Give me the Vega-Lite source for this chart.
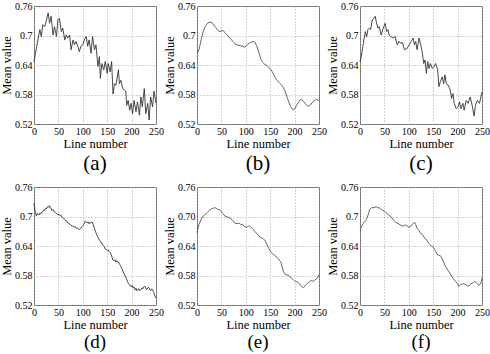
{
  "$schema": "https://vega.github.io/schema/vega-lite/v6.json",
  "padding": {"left": 0, "top": 0, "right": 0, "bottom": 0},
  "background": "white",
  "datasets": {
    "a": [{"x":0,"y":0.647},{"x":3,"y":0.664},{"x":8,"y":0.691},{"x":12,"y":0.712},{"x":15,"y":0.698},{"x":18,"y":0.722},{"x":22,"y":0.718},{"x":25,"y":0.729},{"x":29,"y":0.746},{"x":32,"y":0.725},{"x":35,"y":0.739},{"x":39,"y":0.701},{"x":42,"y":0.718},{"x":46,"y":0.698},{"x":49,"y":0.732},{"x":52,"y":0.735},{"x":56,"y":0.708},{"x":59,"y":0.715},{"x":63,"y":0.691},{"x":66,"y":0.701},{"x":69,"y":0.695},{"x":73,"y":0.701},{"x":76,"y":0.671},{"x":80,"y":0.691},{"x":83,"y":0.681},{"x":86,"y":0.688},{"x":90,"y":0.678},{"x":93,"y":0.667},{"x":96,"y":0.678},{"x":100,"y":0.681},{"x":103,"y":0.691},{"x":107,"y":0.698},{"x":110,"y":0.678},{"x":113,"y":0.691},{"x":117,"y":0.664},{"x":120,"y":0.698},{"x":124,"y":0.671},{"x":127,"y":0.681},{"x":131,"y":0.637},{"x":134,"y":0.657},{"x":136,"y":0.613},{"x":139,"y":0.643},{"x":143,"y":0.630},{"x":146,"y":0.647},{"x":150,"y":0.623},{"x":152,"y":0.643},{"x":156,"y":0.626},{"x":159,"y":0.647},{"x":162,"y":0.581},{"x":165,"y":0.602},{"x":168,"y":0.599},{"x":173,"y":0.630},{"x":175,"y":0.602},{"x":178,"y":0.609},{"x":182,"y":0.592},{"x":185,"y":0.589},{"x":188,"y":0.587},{"x":190,"y":0.558},{"x":193,"y":0.568},{"x":196,"y":0.548},{"x":199,"y":0.562},{"x":202,"y":0.541},{"x":205,"y":0.568},{"x":209,"y":0.545},{"x":212,"y":0.565},{"x":216,"y":0.538},{"x":219,"y":0.575},{"x":222,"y":0.555},{"x":226,"y":0.592},{"x":229,"y":0.541},{"x":233,"y":0.562},{"x":236,"y":0.528},{"x":239,"y":0.575},{"x":243,"y":0.555},{"x":246,"y":0.587},{"x":250,"y":0.562}],
    "b": [{"x":0,"y":0.664},{"x":4,"y":0.671},{"x":8.5,"y":0.691},{"x":12.6,"y":0.708},{"x":16.7,"y":0.718},{"x":20.7,"y":0.724},{"x":24.8,"y":0.727},{"x":28.9,"y":0.727},{"x":33,"y":0.724},{"x":37.1,"y":0.718},{"x":41.1,"y":0.713},{"x":45.2,"y":0.708},{"x":49.3,"y":0.709},{"x":53.4,"y":0.710},{"x":57.5,"y":0.706},{"x":61.5,"y":0.701},{"x":65.6,"y":0.697},{"x":69.7,"y":0.692},{"x":73.8,"y":0.688},{"x":77.9,"y":0.683},{"x":81.9,"y":0.681},{"x":86,"y":0.680},{"x":90.1,"y":0.679},{"x":94.2,"y":0.678},{"x":98.3,"y":0.676},{"x":102.3,"y":0.681},{"x":106.4,"y":0.684},{"x":110.5,"y":0.686},{"x":114.6,"y":0.688},{"x":118.7,"y":0.686},{"x":122.7,"y":0.678},{"x":126.8,"y":0.665},{"x":130.9,"y":0.652},{"x":135,"y":0.645},{"x":139.1,"y":0.641},{"x":143.1,"y":0.639},{"x":147.2,"y":0.635},{"x":151.3,"y":0.631},{"x":155.4,"y":0.624},{"x":159.5,"y":0.616},{"x":163.5,"y":0.609},{"x":167.6,"y":0.605},{"x":171.7,"y":0.601},{"x":175.8,"y":0.596},{"x":179.9,"y":0.588},{"x":183.9,"y":0.577},{"x":188,"y":0.565},{"x":192.1,"y":0.555},{"x":196.2,"y":0.549},{"x":200.3,"y":0.551},{"x":204.3,"y":0.558},{"x":208.4,"y":0.565},{"x":212.5,"y":0.570},{"x":216.6,"y":0.568},{"x":220.7,"y":0.563},{"x":224.7,"y":0.558},{"x":228.8,"y":0.556},{"x":232.9,"y":0.559},{"x":237,"y":0.565},{"x":241.1,"y":0.568},{"x":245.1,"y":0.570},{"x":250,"y":0.568}],
    "c": [{"x":0,"y":0.647},{"x":2.7,"y":0.657},{"x":6.8,"y":0.684},{"x":10.9,"y":0.708},{"x":13.6,"y":0.698},{"x":16.3,"y":0.712},{"x":19,"y":0.715},{"x":21.8,"y":0.712},{"x":25.2,"y":0.732},{"x":28.6,"y":0.735},{"x":31.3,"y":0.739},{"x":34,"y":0.725},{"x":36.7,"y":0.715},{"x":39.4,"y":0.718},{"x":43.5,"y":0.701},{"x":47.6,"y":0.715},{"x":51.7,"y":0.725},{"x":54.4,"y":0.708},{"x":57.1,"y":0.712},{"x":59.8,"y":0.701},{"x":62.6,"y":0.698},{"x":68,"y":0.695},{"x":72.1,"y":0.698},{"x":76.2,"y":0.681},{"x":80.2,"y":0.688},{"x":83,"y":0.684},{"x":87,"y":0.686},{"x":91.1,"y":0.671},{"x":96.6,"y":0.674},{"x":100.6,"y":0.681},{"x":104.7,"y":0.688},{"x":108.8,"y":0.695},{"x":111.5,"y":0.681},{"x":114.2,"y":0.688},{"x":117,"y":0.671},{"x":121,"y":0.695},{"x":125.1,"y":0.678},{"x":127.8,"y":0.664},{"x":130.6,"y":0.643},{"x":133.3,"y":0.650},{"x":136,"y":0.623},{"x":138.7,"y":0.647},{"x":141.4,"y":0.633},{"x":144.2,"y":0.643},{"x":148.2,"y":0.633},{"x":152.3,"y":0.637},{"x":155,"y":0.643},{"x":159.1,"y":0.630},{"x":161.8,"y":0.596},{"x":164.6,"y":0.606},{"x":168.6,"y":0.616},{"x":171.4,"y":0.602},{"x":174.1,"y":0.620},{"x":176.8,"y":0.602},{"x":180.9,"y":0.599},{"x":185,"y":0.589},{"x":187.7,"y":0.572},{"x":190.4,"y":0.582},{"x":193.1,"y":0.562},{"x":197.2,"y":0.551},{"x":201.3,"y":0.555},{"x":204,"y":0.565},{"x":206.7,"y":0.551},{"x":210.8,"y":0.562},{"x":213.5,"y":0.548},{"x":217.6,"y":0.568},{"x":221.7,"y":0.562},{"x":225.8,"y":0.575},{"x":229.8,"y":0.558},{"x":233.9,"y":0.536},{"x":236.6,"y":0.558},{"x":240.7,"y":0.568},{"x":244.8,"y":0.562},{"x":250,"y":0.585}],
    "d": [{"x":0,"y":0.727},{"x":2,"y":0.712},{"x":3,"y":0.708},{"x":5,"y":0.701},{"x":7,"y":0.706},{"x":10,"y":0.703},{"x":12,"y":0.707},{"x":14,"y":0.705},{"x":16,"y":0.709},{"x":18,"y":0.710},{"x":20,"y":0.714},{"x":22,"y":0.712},{"x":24,"y":0.717},{"x":26,"y":0.716},{"x":28,"y":0.720},{"x":30,"y":0.719},{"x":32,"y":0.722},{"x":33,"y":0.718},{"x":35,"y":0.717},{"x":37,"y":0.712},{"x":39,"y":0.714},{"x":41,"y":0.710},{"x":43,"y":0.709},{"x":45,"y":0.707},{"x":47,"y":0.706},{"x":49,"y":0.703},{"x":51,"y":0.705},{"x":53,"y":0.702},{"x":55,"y":0.703},{"x":57,"y":0.699},{"x":60,"y":0.697},{"x":63,"y":0.694},{"x":65,"y":0.691},{"x":68,"y":0.690},{"x":70,"y":0.686},{"x":73,"y":0.685},{"x":76,"y":0.682},{"x":79,"y":0.681},{"x":82,"y":0.678},{"x":84,"y":0.680},{"x":87,"y":0.676},{"x":90,"y":0.676},{"x":92,"y":0.673},{"x":94,"y":0.675},{"x":96,"y":0.676},{"x":98,"y":0.679},{"x":100,"y":0.681},{"x":102,"y":0.684},{"x":104,"y":0.688},{"x":105,"y":0.691},{"x":107,"y":0.689},{"x":109,"y":0.687},{"x":111,"y":0.689},{"x":113,"y":0.685},{"x":115,"y":0.688},{"x":117,"y":0.687},{"x":119,"y":0.689},{"x":121,"y":0.684},{"x":124,"y":0.675},{"x":126,"y":0.670},{"x":128,"y":0.664},{"x":130,"y":0.660},{"x":133,"y":0.654},{"x":135,"y":0.651},{"x":137,"y":0.647},{"x":139,"y":0.646},{"x":141,"y":0.642},{"x":144,"y":0.639},{"x":146,"y":0.634},{"x":148,"y":0.633},{"x":150,"y":0.631},{"x":152,"y":0.632},{"x":154,"y":0.629},{"x":156,"y":0.627},{"x":158,"y":0.623},{"x":160,"y":0.617},{"x":162,"y":0.611},{"x":164,"y":0.610},{"x":166,"y":0.612},{"x":168,"y":0.607},{"x":170,"y":0.610},{"x":172,"y":0.607},{"x":174,"y":0.606},{"x":176,"y":0.602},{"x":178,"y":0.598},{"x":180,"y":0.594},{"x":182,"y":0.589},{"x":184,"y":0.585},{"x":186,"y":0.581},{"x":188,"y":0.577},{"x":190,"y":0.572},{"x":192,"y":0.567},{"x":194,"y":0.563},{"x":196,"y":0.561},{"x":199,"y":0.557},{"x":201,"y":0.560},{"x":203,"y":0.555},{"x":205,"y":0.557},{"x":207,"y":0.551},{"x":209,"y":0.554},{"x":211,"y":0.549},{"x":213,"y":0.552},{"x":215,"y":0.553},{"x":217,"y":0.549},{"x":219,"y":0.551},{"x":221,"y":0.555},{"x":223,"y":0.553},{"x":225,"y":0.557},{"x":227,"y":0.558},{"x":229,"y":0.554},{"x":231,"y":0.551},{"x":233,"y":0.555},{"x":235,"y":0.556},{"x":237,"y":0.552},{"x":239,"y":0.549},{"x":241,"y":0.553},{"x":243,"y":0.551},{"x":245,"y":0.546},{"x":248,"y":0.538},{"x":250,"y":0.534}],
    "e": [{"x":0,"y":0.667},{"x":4,"y":0.684},{"x":9,"y":0.695},{"x":13,"y":0.701},{"x":17,"y":0.705},{"x":21,"y":0.708},{"x":25,"y":0.712},{"x":29,"y":0.715},{"x":33,"y":0.717},{"x":37,"y":0.718},{"x":41,"y":0.715},{"x":45,"y":0.714},{"x":49,"y":0.712},{"x":53,"y":0.706},{"x":57,"y":0.701},{"x":62,"y":0.699},{"x":66,"y":0.698},{"x":70,"y":0.695},{"x":74,"y":0.691},{"x":78,"y":0.686},{"x":82,"y":0.686},{"x":86,"y":0.686},{"x":90,"y":0.684},{"x":94,"y":0.683},{"x":98,"y":0.679},{"x":102,"y":0.678},{"x":106,"y":0.681},{"x":110,"y":0.679},{"x":115,"y":0.674},{"x":119,"y":0.669},{"x":123,"y":0.665},{"x":127,"y":0.660},{"x":131,"y":0.657},{"x":135,"y":0.655},{"x":139,"y":0.652},{"x":143,"y":0.643},{"x":147,"y":0.635},{"x":151,"y":0.628},{"x":155,"y":0.624},{"x":159,"y":0.621},{"x":164,"y":0.617},{"x":168,"y":0.612},{"x":172,"y":0.607},{"x":174,"y":0.599},{"x":177,"y":0.588},{"x":181,"y":0.582},{"x":185,"y":0.581},{"x":189,"y":0.579},{"x":193,"y":0.575},{"x":197,"y":0.572},{"x":201,"y":0.568},{"x":206,"y":0.567},{"x":210,"y":0.563},{"x":214,"y":0.558},{"x":218,"y":0.555},{"x":222,"y":0.560},{"x":226,"y":0.564},{"x":230,"y":0.567},{"x":234,"y":0.570},{"x":238,"y":0.568},{"x":243,"y":0.572},{"x":247,"y":0.575},{"x":250,"y":0.582}],
    "f": [{"x":0,"y":0.674},{"x":4,"y":0.681},{"x":8,"y":0.688},{"x":12,"y":0.692},{"x":15,"y":0.698},{"x":18,"y":0.708},{"x":20,"y":0.715},{"x":24,"y":0.718},{"x":29,"y":0.718},{"x":33,"y":0.720},{"x":37,"y":0.718},{"x":41,"y":0.717},{"x":45,"y":0.713},{"x":49,"y":0.712},{"x":53,"y":0.708},{"x":57,"y":0.705},{"x":61,"y":0.701},{"x":65,"y":0.698},{"x":69,"y":0.692},{"x":73,"y":0.688},{"x":78,"y":0.686},{"x":82,"y":0.683},{"x":86,"y":0.681},{"x":90,"y":0.681},{"x":94,"y":0.683},{"x":97,"y":0.681},{"x":99,"y":0.678},{"x":103,"y":0.679},{"x":107,"y":0.684},{"x":112,"y":0.688},{"x":114,"y":0.684},{"x":117,"y":0.676},{"x":121,"y":0.671},{"x":125,"y":0.665},{"x":129,"y":0.662},{"x":133,"y":0.655},{"x":137,"y":0.652},{"x":141,"y":0.645},{"x":146,"y":0.640},{"x":150,"y":0.638},{"x":154,"y":0.631},{"x":158,"y":0.623},{"x":162,"y":0.621},{"x":166,"y":0.619},{"x":170,"y":0.611},{"x":174,"y":0.601},{"x":178,"y":0.594},{"x":182,"y":0.588},{"x":186,"y":0.581},{"x":190,"y":0.575},{"x":194,"y":0.570},{"x":199,"y":0.564},{"x":203,"y":0.558},{"x":207,"y":0.562},{"x":211,"y":0.563},{"x":215,"y":0.562},{"x":219,"y":0.560},{"x":223,"y":0.558},{"x":227,"y":0.563},{"x":231,"y":0.565},{"x":235,"y":0.568},{"x":239,"y":0.565},{"x":243,"y":0.560},{"x":246,"y":0.562},{"x":249,"y":0.568},{"x":250,"y":0.575}]
  },
  "columns": 3,
  "concat": [
    {"width": 122, "height": 118, "title": "(a)", "data": {"name": "a"}, "mark": {"type": "line", "color": "#333"},
     "encoding": {"x": {"field": "x", "type": "quantitative", "scale": {"domain": [0, 250]}, "axis": {"values": [0, 50, 100, 150, 200, 250], "title": "Line number"}},
                  "y": {"field": "y", "type": "quantitative", "scale": {"domain": [0.52, 0.76]}, "axis": {"values": [0.52, 0.58, 0.64, 0.7, 0.76], "format": ".2~f", "title": "Mean value"}}}},
    {"width": 122, "height": 118, "title": "(b)", "data": {"name": "b"}, "mark": {"type": "line", "color": "#555"},
     "encoding": {"x": {"field": "x", "type": "quantitative", "scale": {"domain": [0, 250]}, "axis": {"values": [0, 50, 100, 150, 200, 250], "title": "Line number"}},
                  "y": {"field": "y", "type": "quantitative", "scale": {"domain": [0.52, 0.76]}, "axis": {"values": [0.52, 0.58, 0.64, 0.7, 0.76], "format": ".2~f", "title": "Mean value"}}}},
    {"width": 122, "height": 118, "title": "(c)", "data": {"name": "c"}, "mark": {"type": "line", "color": "#333"},
     "encoding": {"x": {"field": "x", "type": "quantitative", "scale": {"domain": [0, 250]}, "axis": {"values": [0, 50, 100, 150, 200, 250], "title": "Line number"}},
                  "y": {"field": "y", "type": "quantitative", "scale": {"domain": [0.52, 0.76]}, "axis": {"values": [0.52, 0.58, 0.64, 0.7, 0.76], "format": ".2~f", "title": "Mean value"}}}},
    {"width": 122, "height": 118, "title": {"text": "(d)", "offset": 2, "fontSize": 19}, "data": {"name": "d"}, "mark": {"type": "line", "color": "#333"},
     "encoding": {"x": {"field": "x", "type": "quantitative", "scale": {"domain": [0, 250]}, "axis": {"values": [0, 50, 100, 150, 200, 250], "title": "Line number"}},
                  "y": {"field": "y", "type": "quantitative", "scale": {"domain": [0.52, 0.76]}, "axis": {"values": [0.52, 0.58, 0.64, 0.7, 0.76], "format": ".2~f", "title": "Mean value"}}}},
    {"width": 122, "height": 118, "title": {"text": "(e)", "offset": 2, "fontSize": 19}, "data": {"name": "e"}, "mark": {"type": "line", "color": "#555"},
     "encoding": {"x": {"field": "x", "type": "quantitative", "scale": {"domain": [0, 250]}, "axis": {"values": [0, 50, 100, 150, 200, 250], "title": "Line number"}},
                  "y": {"field": "y", "type": "quantitative", "scale": {"domain": [0.52, 0.76]}, "axis": {"values": [0.52, 0.58, 0.64, 0.7, 0.76], "format": ".2f", "title": "Mean value"}}}},
    {"width": 122, "height": 118, "title": {"text": "(f)", "offset": 2, "fontSize": 19}, "data": {"name": "f"}, "mark": {"type": "line", "color": "#555"},
     "encoding": {"x": {"field": "x", "type": "quantitative", "scale": {"domain": [0, 250]}, "axis": {"values": [0, 50, 100, 150, 200, 250], "title": "Line number"}},
                  "y": {"field": "y", "type": "quantitative", "scale": {"domain": [0.52, 0.76]}, "axis": {"values": [0.52, 0.58, 0.64, 0.7, 0.76], "format": ".2~f", "title": "Mean value"}}}}
  ],
  "spacing": {"row": 63, "column": 41},
  "bounds": "flush",
  "config": {
    "view": {"stroke": "#666", "strokeWidth": 1},
    "line": {"strokeWidth": 0.9},
    "axis": {
      "labelFont": "Liberation Serif", "titleFont": "Liberation Serif",
      "labelFontSize": 10, "titleFontSize": 12.5, "titleFontWeight": 400,
      "labelColor": "#000", "titleColor": "#000",
      "grid": true, "gridDash": [1, 2], "gridColor": "#aaa", "gridOpacity": 1,
      "domain": false, "ticks": false,
      "labelPadding": 2, "titlePadding": 1,
      "labelFlush": false, "labelOverlap": false, "labelBound": false
    },
    "title": {"orient": "bottom", "font": "Liberation Serif", "fontSize": 21, "fontWeight": "normal", "color": "#000", "offset": 3}
  }
}
